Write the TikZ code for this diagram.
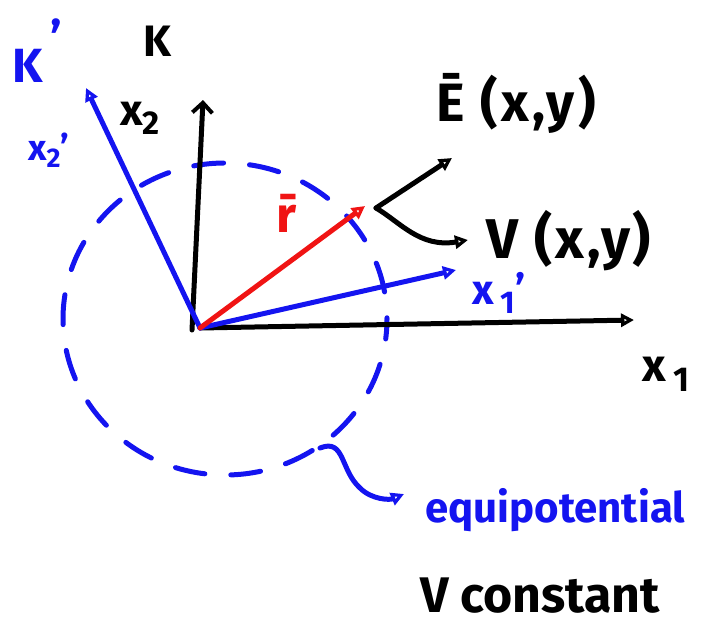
\documentclass[tikz,border=0pt]{standalone}
\usepackage{fontspec}
\setmainfont{Fira Sans}
\usetikzlibrary{arrows.meta}
\definecolor{pblue}{RGB}{20,20,240}
\definecolor{pred}{RGB}{240,20,20}
\newcommand{\sbs}[1]{\raisebox{-0.22em}{\scalebox{0.75}{#1}}}
\tikzset{
  pen/.style={line width=5pt, line cap=round, line join=round},
  blk/.style={pen, draw=black},
  blu/.style={pen, draw=pblue},
  rd/.style={pen, draw=pred},
  headopen/.style={-{Triangle[open, length=13pt, width=13pt, line width=3.5pt]}},
  headbarb/.style={-{Straight Barb[length=10pt, width=20pt, line width=4pt]}},
  lbl/.style={inner sep=0pt, anchor=base west},
}
\begin{document}
\begin{tikzpicture}[x=1pt,y=-1pt]
\useasboundingbox (0,0) rectangle (701,624);
% coordinates
\coordinate (O) at (200,328);
\coordinate (X1) at (634,320);
\coordinate (X2) at (203,100);
\coordinate (X2b) at (192,330);
\coordinate (X2p) at (86,88);
\coordinate (X1p) at (456,270);
\coordinate (R) at (365,206);
\coordinate (P) at (376,208);
\coordinate (Eend) at (452,158);
\coordinate (Vend) at (468,240);
\coordinate (Ws) at (320,448);
\coordinate (We) at (404,494);
% dashed equipotential
\draw[blu, dash pattern=on 30pt off 26pt, dash phase=10pt] (225,319) ellipse [x radius=162, y radius=156];
% axes K
\draw[blk, headopen] (O) -- (X1);
\draw[blk, headbarb] (X2b) -- (X2);
% axes K'
\draw[blu, headopen] (O) -- (X2p);
\draw[blu, headopen] (O) -- (X1p);
% r vector
\draw[rd, headopen] (O) -- (R);
% E and V arrows
\draw[blk, headopen] (P) -- (Eend);
\draw[blk, headopen] (P) .. controls (400,222) and (420,248) .. (Vend);
% squiggle
\draw[blu, headopen] (Ws) .. controls (345,438) and (340,470) .. (360,488) .. controls (372,500) and (390,500) .. (We);
% labels
\node[lbl, font=\fontsize{44}{46}\selectfont\bfseries] (K) at (143,56) {K};
\node[lbl, font=\fontsize{44}{46}\selectfont\bfseries] (x2) at (120,125) {x\sbs{2}};
\node[lbl, text=pblue, font=\fontsize{48}{50}\selectfont\bfseries] (Kp) at (12,82) {K\raisebox{0.55em}{\,’}};
\node[lbl, text=pblue, font=\fontsize{36}{38}\selectfont\bfseries] (x2p) at (28,160) {x\sbs{2}’};
\node[lbl, text=pblue, font=\fontsize{42}{44}\selectfont\bfseries] (x1p) at (472,304) {x\,\sbs{1}’};
\node[lbl, font=\fontsize{46}{48}\selectfont\bfseries] (x1) at (642,381) {x\,\sbs{1}};
\node[lbl, text=pred, font=\fontsize{50}{52}\selectfont\bfseries] (r) at (276,232) {\={r}};
\node[lbl, font=\fontsize{54}{56}\selectfont\bfseries\addfontfeatures{LetterSpace=6}] (E) at (436,121) {Ē (x,y)};
\node[lbl, font=\fontsize{56}{58}\selectfont\bfseries\addfontfeatures{LetterSpace=5}] (V) at (486,258) {V (x,y)};
\node[lbl, text=pblue, font=\fontsize{42}{44}\selectfont\bfseries] (eq) at (425,522) {equipotential};
\node[lbl, font=\fontsize{50}{52}\selectfont\bfseries] (Vc) at (420,612) {V constant};
\end{tikzpicture}
\end{document}
